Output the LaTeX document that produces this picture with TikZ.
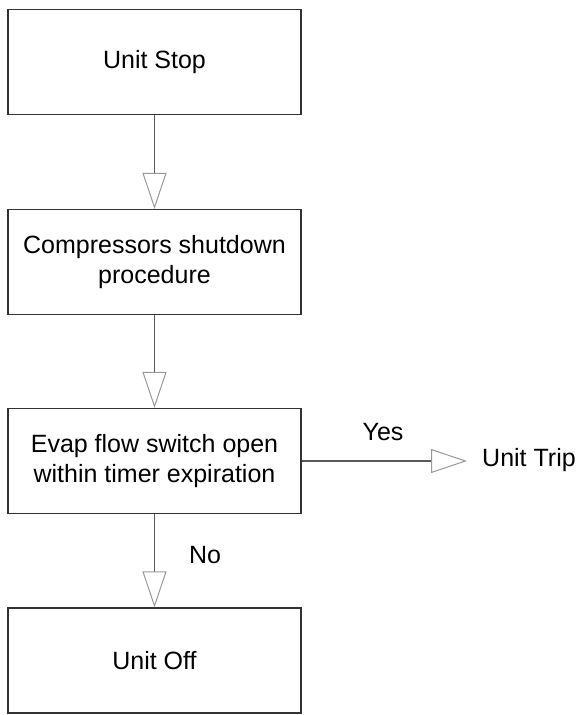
\documentclass[tikz,border=0pt]{standalone}
\usepackage{fontspec}
\setmainfont{Liberation Sans}
\usetikzlibrary{arrows.meta}
\begin{document}
\begin{tikzpicture}[x=1pt,y=-1pt,
  box/.style={draw=black!80, line width=1.1pt, minimum width=293pt, minimum height=105pt, inner sep=0pt, align=center, font=\fontsize{25}{30}\selectfont},
  lbl/.style={inner sep=0pt, font=\fontsize{25}{30}\selectfont},
  conn/.style={draw=black!65, line width=1.1pt, -{Triangle[open, length=36pt, width=24pt, color=black!40, line width=1pt]}}
]
\useasboundingbox (0,0) rectangle (578,715);
\node[box] (b1) at (154.5,62) {Unit Stop};
\node[box] (b2) at (154.5,262) {Compressors shutdown\\procedure};
\node[box] (b3) at (154.5,461) {Evap flow switch open\\within timer expiration};
\node[box] (b4) at (154.5,660.5) {Unit Off};
\node[lbl, anchor=west] (trip) at (482,460) {Unit Trip};
\node[lbl] (yes) at (383,432) {Yes};
\node[lbl] (no) at (205,555) {No};
\coordinate (tripend) at ([xshift=-15pt]trip.west |- b3.east);
\draw[conn] (b1) -- (b2);
\draw[conn] (b2) -- (b3);
\draw[conn] (b3) -- (b4);
\draw[conn] (b3.east) -- (tripend);
\end{tikzpicture}
\end{document}
